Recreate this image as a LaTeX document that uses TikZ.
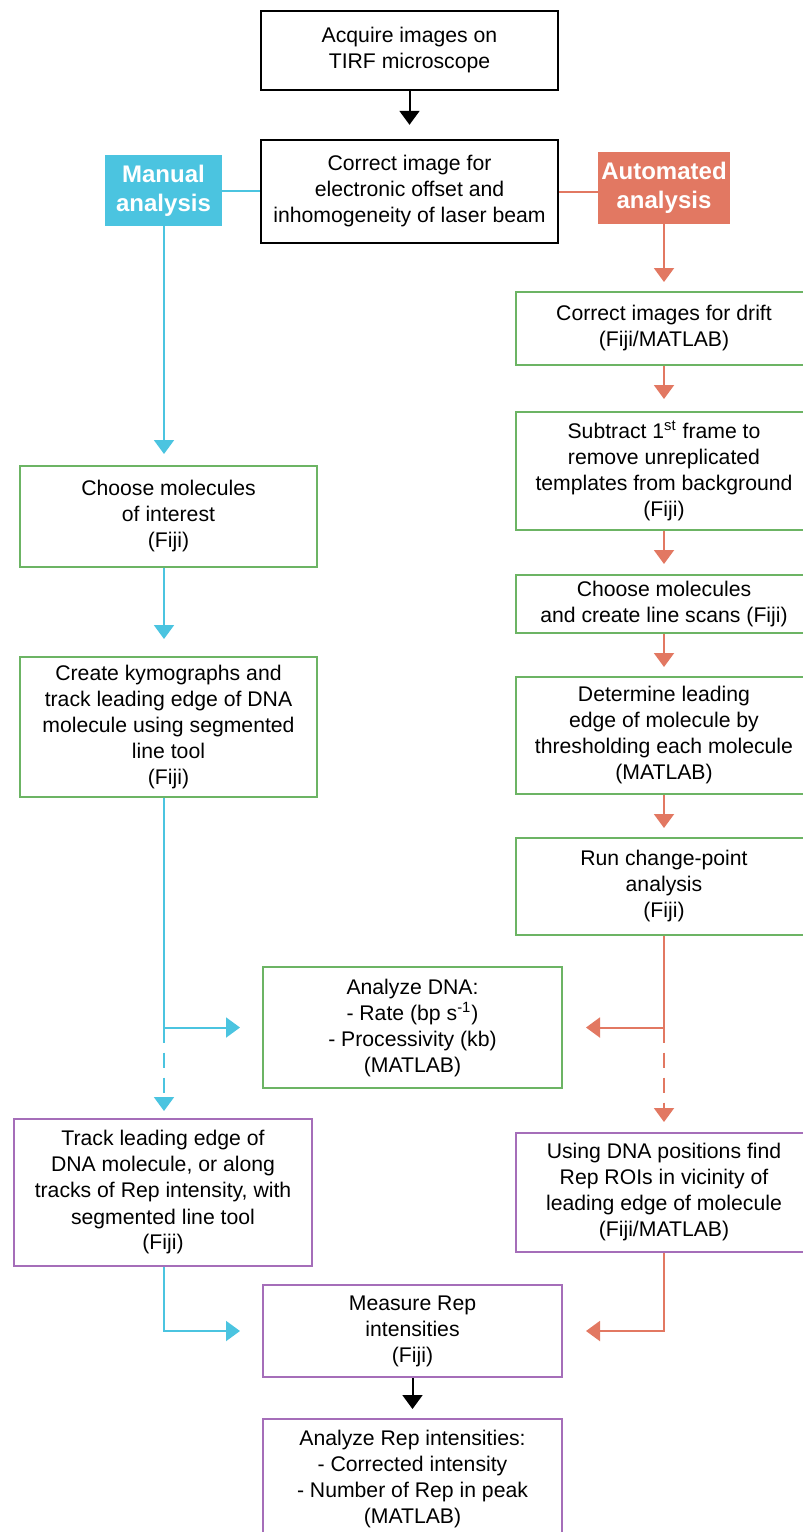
\documentclass[tikz,border=0pt]{standalone}
\usepackage{fontspec}
\setmainfont{Liberation Sans}
\usetikzlibrary{arrows.meta}
\definecolor{mcyan}{RGB}{75,196,224}
\definecolor{morange}{RGB}{226,120,98}
\definecolor{mgreen}{RGB}{108,180,100}
\definecolor{mpurple}{RGB}{165,110,185}
\tikzset{
  box/.style={draw, rectangle, line width=1pt, align=center, inner sep=0pt,
    font=\fontsize{10.6}{13}\selectfont},
  bbox/.style={box, draw=black, line width=1.2pt},
  gbox/.style={box, draw=mgreen},
  pbox/.style={box, draw=mpurple},
  label/.style={rectangle, inner sep=0pt, align=center, text=white,
    font=\fontsize{12}{14.5}\selectfont\bfseries},
  arr/.style={-{Triangle[width=10pt,length=7pt]}, line width=1pt},
  conn/.style={line width=1pt},
  dsh/.style={dash pattern=on 7.5pt off 5pt}
}
\begin{document}
\begin{tikzpicture}[x=0.5pt,y=-0.5pt]
\useasboundingbox (0,0) rectangle (803,1532);
% top
\node[bbox, minimum width=148.5pt, minimum height=39.5pt] (acq) at (409.5,50.5)
  {Acquire images on\\TIRF microscope};
\node[bbox, minimum width=148.5pt, minimum height=51.5pt] (corr) at (409.5,191.5)
  {Correct image for\\electronic offset and\\inhomogeneity of laser beam};
\node[label, fill=mcyan, minimum width=58.5pt, minimum height=35.5pt] (manual) at (163.5,190.5)
  {Manual\\analysis};
\node[label, fill=morange, minimum width=66pt, minimum height=36pt] (auto) at (664,188)
  {Automated\\analysis};
% left column
\node[gbox, minimum width=148.5pt, minimum height=50.5pt] (choose) at (168.5,516.5)
  {Choose molecules\\of interest\\(Fiji)};
\node[gbox, minimum width=148.5pt, minimum height=70pt] (kymo) at (168.5,727)
  {Create kymographs and\\track leading edge of DNA\\molecule using segmented\\line tool\\(Fiji)};
\node[pbox, minimum width=149pt, minimum height=73.5pt] (track) at (163,1192.5)
  {Track leading edge of\\DNA molecule, or along\\tracks of Rep intensity, with\\segmented line tool\\(Fiji)};
% centre column
\node[gbox, minimum width=149.5pt, minimum height=60.5pt] (dna) at (412.5,1027.5)
  {Analyze DNA:\\- Rate (bp s\textsuperscript{-1})\\- Processivity (kb)\\(MATLAB)};
\node[pbox, minimum width=149.5pt, minimum height=46pt] (measure) at (412.5,1331)
  {Measure Rep\\intensities\\(Fiji)};
\node[pbox, minimum width=149.5pt, minimum height=60pt] (rep) at (412.5,1479)
  {Analyze Rep intensities:\\- Corrected intensity\\- Number of Rep in peak\\(MATLAB)};
% right column
\node[gbox, minimum width=148pt, minimum height=36.5pt] (drift) at (664,328.5)
  {Correct images for drift\\(Fiji/MATLAB)};
\node[gbox, minimum width=148pt, minimum height=59pt] (subtract) at (664,471)
  {Subtract 1\textsuperscript{st} frame to\\remove unreplicated\\templates from background\\(Fiji)};
\node[gbox, minimum width=148pt, minimum height=29pt] (chooser) at (664,604)
  {Choose molecules\\and create line scans (Fiji)};
\node[gbox, minimum width=148pt, minimum height=58.5pt] (determine) at (664,735.5)
  {Determine leading\\edge of molecule by\\thresholding each molecule\\(MATLAB)};
\node[gbox, minimum width=148pt, minimum height=48.5pt] (run) at (664,886.5)
  {Run change-point\\analysis\\(Fiji)};
\node[pbox, minimum width=148pt, minimum height=59.5pt] (using) at (664,1192.5)
  {Using DNA positions find\\Rep ROIs in vicinity of\\leading edge of molecule\\(Fiji/MATLAB)};
% column coordinates
\coordinate (lx) at (164,0);
\coordinate (rx) at (664,0);
% black arrows
\draw[arr, shorten >=7pt] (acq.south) -- (corr.north);
\draw[arr, shorten >=4.5pt] (measure.south) -- (rep.north);
% cyan
\draw[conn, mcyan] (manual.east) -- (manual.east -| corr.west);
\draw[arr, mcyan, shorten >=5.5pt] (lx |- manual.south) -- (lx |- choose.north);
\draw[arr, mcyan, shorten >=8.5pt] (lx |- choose.south) -- (lx |- kymo.north);
\draw[arr, mcyan, shorten >=11pt] (lx |- kymo.south) |- (dna.west);
\draw[arr, mcyan, dsh, shorten >=3.5pt] (lx |- dna.west) -- (lx |- track.north);
\draw[arr, mcyan, shorten >=11pt] (lx |- track.south) |- (measure.west);
% orange
\draw[conn, morange] (corr.east) -- (corr.east -| auto.west);
\draw[arr, morange, shorten >=4.5pt] (auto.south) -- (drift.north);
\draw[arr, morange, shorten >=6pt] (drift.south) -- (subtract.north);
\draw[arr, morange, shorten >=5pt] (subtract.south) -- (chooser.north);
\draw[arr, morange, shorten >=4.5pt] (chooser.south) -- (determine.north);
\draw[arr, morange, shorten >=4.5pt] (determine.south) -- (run.north);
\draw[arr, morange, shorten >=11.5pt] (run.south) |- (dna.east);
\draw[arr, morange, dsh, shorten >=5pt] (rx |- dna.east) -- (using.north);
\draw[arr, morange, shorten >=11.5pt] (using.south) |- (measure.east);
\end{tikzpicture}
\end{document}
